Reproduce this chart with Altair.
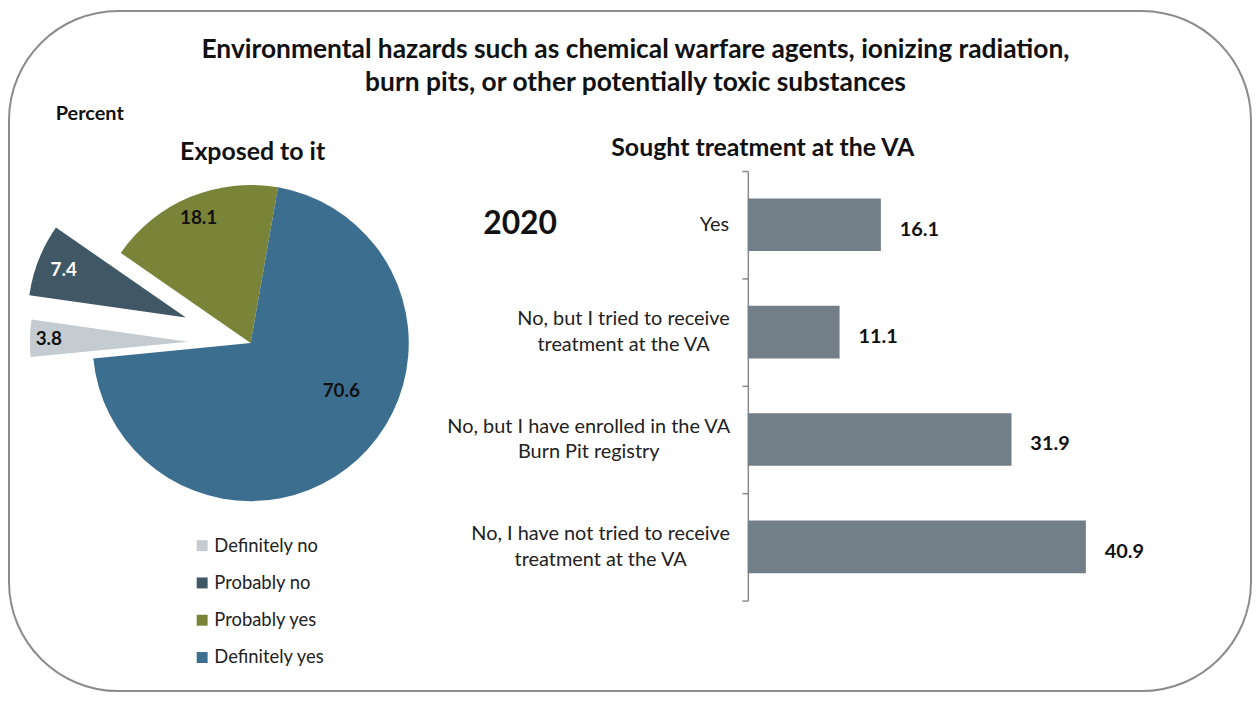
import math
import altair as alt
import pandas as pd

# ---------------- data ----------------
exposure_levels = ["Definitely no", "Probably no", "Probably yes", "Definitely yes"]
exposure_values = [3.8, 7.4, 18.1, 70.6]
exposure_colors = ["#C4CCD1", "#405766", "#7A8439", "#3B6E8F"]

treatment_labels = [
    "Yes",
    "No, but I tried to receive\ntreatment at the VA",
    "No, but I have enrolled in the VA\nBurn Pit registry",
    "No, I have not tried to receive\ntreatment at the VA",
]
treatment_values = [16.1, 11.1, 31.9, 40.9]

title_lines = [
    "Environmental hazards such as chemical warfare agents, ionizing radiation,",
    "burn pits, or other potentially toxic substances",
]
unit_label = "Percent"
pie_title = "Exposed to it"
bar_title = "Sought treatment at the VA"
year_label = "2020"

# ---------------- layout / style ----------------
FONT = "Lato"
W, H = 1249, 684
PIE_CX, PIE_CY, PIE_R = 243, 334, 159
START_DEG = 264.4
EXPLODE = {"Definitely no": 63, "Probably no": 70}
BAR_COLOR = "#737F88"
TEXT_COLOR = "#111111"
LABEL_COLOR = "#222222"
CAT_FONT_SIZE = 20
CAT_LINE_H = 25.5
AXIS_X = 743
LABEL_RIGHT = 724
# approximate rendered width of the widest line of each category label,
# used to centre wrapped lines inside a right-aligned block (as in the original)
CAT_BLOCK_W = [29, 212, 282, 258]

total = sum(exposure_values)
pie_df = pd.DataFrame({
    "level": exposure_levels,
    "value": exposure_values,
    "order": list(range(len(exposure_levels))),
})
bar_df = pd.DataFrame({"answer": treatment_labels, "value": treatment_values})

theta_scale = alt.Scale(
    domain=[0, total],
    range=[math.radians(START_DEG), math.radians(START_DEG) + 2 * math.pi],
)
color_scale = alt.Scale(domain=exposure_levels, range=exposure_colors)
legend = alt.Legend(
    title=None, orient="none", legendX=185, legendY=528.5, direction="vertical",
    symbolType="square", symbolSize=121, symbolStrokeWidth=0,
    labelFont=FONT, labelFontSize=18.5, labelColor=LABEL_COLOR,
    rowPadding=18.5, labelOffset=3,
)


def explode_offset(level):
    i = exposure_levels.index(level)
    mid = sum(exposure_values[:i]) + exposure_values[i] / 2
    ang = math.radians(START_DEG) + mid / total * 2 * math.pi
    d = EXPLODE.get(level, 0)
    return d * math.sin(ang), -d * math.cos(ang)


pie_base = alt.Chart(pie_df).transform_window(
    end="sum(value)", sort=[alt.SortField("order")], frame=[None, 0]
).transform_calculate(
    start="datum.end - datum.value", mid="datum.end - datum.value / 2"
)


def slices(levels, dx=0.0, dy=0.0):
    return pie_base.transform_filter(
        alt.FieldOneOfPredicate(field="level", oneOf=levels)
    ).mark_arc(outerRadius=PIE_R).encode(
        x=alt.value(PIE_CX + dx),
        y=alt.value(PIE_CY + dy),
        theta=alt.Theta("start:Q", stack=None, scale=theta_scale),
        theta2="end:Q",
        color=alt.Color("level:N", scale=color_scale, legend=legend),
    )


def slice_labels(levels, color, radius, dx=0.0, dy=0.0, theta_off=0.0):
    return pie_base.transform_filter(
        alt.FieldOneOfPredicate(field="level", oneOf=levels)
    ).mark_text(
        radius=radius, thetaOffset=theta_off, font=FONT, fontSize=19,
        fontWeight="bold", color=color, baseline="middle", align="center",
    ).encode(
        x=alt.value(PIE_CX + dx),
        y=alt.value(PIE_CY + dy),
        theta=alt.Theta("mid:Q", stack=None, scale=theta_scale),
        text=alt.Text("value:Q", format=".1f"),
    )


dn_dx, dn_dy = explode_offset("Definitely no")
pn_dx, pn_dy = explode_offset("Probably no")

pie_layers = [
    slices(["Probably yes", "Definitely yes"]),
    slices(["Definitely no"], dn_dx, dn_dy),
    slices(["Probably no"], pn_dx, pn_dy),
    slice_labels(["Probably yes"], TEXT_COLOR, 136),
    slice_labels(["Definitely yes"], TEXT_COLOR, 103, theta_off=-0.34),
    slice_labels(["Definitely no"], TEXT_COLOR, 140, dn_dx, dn_dy),
    slice_labels(["Probably no"], "#FFFFFF", 132, pn_dx, pn_dy),
]

y_enc = alt.Y(
    "answer:N", sort=treatment_labels,
    scale=alt.Scale(range=[161, 593], paddingInner=0, paddingOuter=0),
    axis=alt.Axis(
        title=None, orient="left", offset=-AXIS_X, tickBand="extent",
        domainColor="#8A8A8A", domainWidth=1.5, tickColor="#8A8A8A", tickWidth=1.5,
        tickSize=6, labels=False, grid=False,
    ),
)
x_enc = alt.X("value:Q", scale=alt.Scale(domain=[0, 45], range=[AXIS_X, AXIS_X + 374]), axis=None)

bars = alt.Chart(bar_df).mark_bar(
    color=BAR_COLOR, height=alt.RelativeBandSize(0.49)
).encode(y=y_enc, x=x_enc)

bar_text = alt.Chart(bar_df).mark_text(
    align="left", baseline="middle", dx=19, dy=5, font=FONT, fontSize=20,
    fontWeight="bold", color=TEXT_COLOR,
).encode(y=y_enc, x=x_enc, text=alt.Text("value:Q", format=".1f"))

# category labels: block right-aligned next to the axis, lines centred in the block
category_labels = []
for lbl, w in zip(treatment_labels, CAT_BLOCK_W):
    n_lines = lbl.count("\n") + 1
    category_labels.append(
        alt.Chart(bar_df).transform_filter(
            alt.FieldEqualPredicate(field="answer", equal=lbl)
        ).mark_text(
            align="center", baseline="middle", lineBreak="\n",
            lineHeight=CAT_LINE_H, dy=-CAT_LINE_H * (n_lines - 1) / 2,
            font=FONT, fontSize=CAT_FONT_SIZE, color=LABEL_COLOR,
        ).encode(y=y_enc, x=alt.value(LABEL_RIGHT - w / 2), text="answer:N")
    )


def note(text, x, y, size, align="center"):
    return alt.Chart(pd.DataFrame({"t": [text]})).mark_text(
        font=FONT, fontSize=size, fontWeight="bold", color=TEXT_COLOR,
        align=align, baseline="alphabetic",
    ).encode(x=alt.value(x), y=alt.value(y), text="t:N")


notes = [
    note(unit_label, 47, 110, 20, "left"),
    note(pie_title, 245, 150, 25),
    note(bar_title, 758, 146, 25),
    note(year_label, 514, 224, 32),
]

chart = alt.layer(*pie_layers, bars, bar_text, *category_labels, *notes).properties(
    width=W, height=H, padding=1,
    autosize=alt.AutoSizeParams(type="none"),
    title=alt.TitleParams(
        text=title_lines, font=FONT, fontSize=26.5, fontWeight="bold",
        color=TEXT_COLOR, lineHeight=33, anchor="middle", frame="group",
        offset=-86, dx=5.5,
    ),
).configure(
    font=FONT
).configure_view(
    stroke="#8C8C8C", strokeWidth=2, cornerRadius=110
)

chart.save("out.html", embed_options={"renderer": "svg", "actions": False})
